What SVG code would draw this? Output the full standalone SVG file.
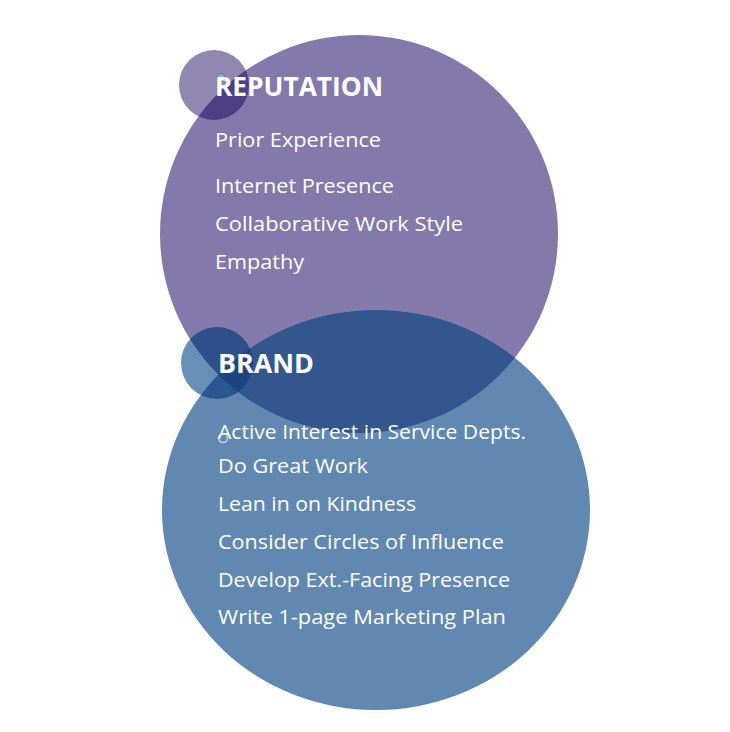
<svg xmlns="http://www.w3.org/2000/svg" width="730" height="732" viewBox="0 0 730 732">
<style>
.t{font-family:"Open Sans",Lato,sans-serif;fill:#fff;font-size:20px}
.h{font-family:"Open Sans",Lato,sans-serif;fill:#fff;font-size:27px;font-weight:bold}
</style>
<defs>
<clipPath id="cp"><circle cx="359" cy="234" r="199"/></clipPath>
<clipPath id="cs2"><circle cx="217" cy="363" r="36"/></clipPath>
</defs>
<rect width="730" height="732" fill="#fff"/>
<g id="reputation">
<circle cx="359" cy="234" r="199" fill="#8479ab"/>
<circle cx="214" cy="85" r="35" fill="#9088b0"/>
<circle cx="214" cy="85" r="35" fill="#4d3f85" clip-path="url(#cp)"/>
<circle cx="221" cy="77" r="3.5" fill="#8fb0e0" stroke="#5a78c0" stroke-width="1"/>
</g>
<g id="brand">
<ellipse cx="376" cy="510" rx="214" ry="200" fill="#6088b0"/>
<g clip-path="url(#cp)"><ellipse cx="376" cy="510" rx="214" ry="200" fill="#34568f"/></g>
<circle cx="217" cy="363" r="36" fill="#6790b8"/>
<g clip-path="url(#cs2)"><circle cx="359" cy="234" r="199" fill="#2f4f8a"/><ellipse cx="376" cy="510" rx="214" ry="200" fill="#2a5793"/><g clip-path="url(#cp)"><ellipse cx="376" cy="510" rx="214" ry="200" fill="#1e4580"/></g></g>
<circle cx="223" cy="438" r="4.5" fill="none" stroke="#c8d4ee" stroke-width="1.5"/>
</g>
<g id="texts">
<text class="h" x="215" y="96" textLength="168" lengthAdjust="spacingAndGlyphs">REPUTATION</text>
<text class="t" x="215" y="147" textLength="166" lengthAdjust="spacingAndGlyphs">Prior Experience</text>
<text class="t" x="215" y="193" textLength="179" lengthAdjust="spacingAndGlyphs">Internet Presence</text>
<text class="t" x="215" y="231" textLength="248" lengthAdjust="spacingAndGlyphs">Collaborative Work Style</text>
<text class="t" x="215" y="269" textLength="89" lengthAdjust="spacingAndGlyphs">Empathy</text>
<text class="h" x="218" y="373" textLength="96" lengthAdjust="spacingAndGlyphs">BRAND</text>
<text class="t" x="218" y="439" textLength="308" lengthAdjust="spacingAndGlyphs">Active Interest in Service Depts.</text>
<text class="t" x="218" y="473" textLength="150" lengthAdjust="spacingAndGlyphs">Do Great Work</text>
<text class="t" x="218" y="511" textLength="198" lengthAdjust="spacingAndGlyphs">Lean in on Kindness</text>
<text class="t" x="218" y="549" textLength="286" lengthAdjust="spacingAndGlyphs">Consider Circles of Influence</text>
<text class="t" x="218" y="587" textLength="292" lengthAdjust="spacingAndGlyphs">Develop Ext.-Facing Presence</text>
<text class="t" x="218" y="624" textLength="288" lengthAdjust="spacingAndGlyphs">Write 1-page Marketing Plan</text>
</g>
<g id="connectors"/>
</svg>
